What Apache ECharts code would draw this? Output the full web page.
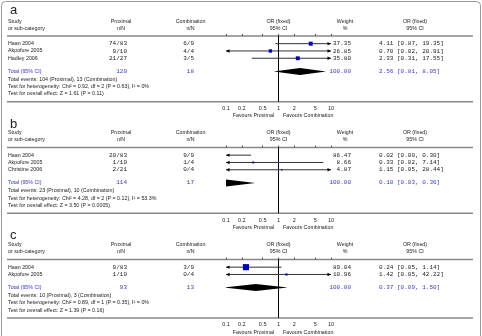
<!DOCTYPE html>
<html>
<head>
<meta charset="utf-8">
<script src="https://cdn.jsdelivr.net/npm/echarts@6/dist/echarts.min.js"></script>
<style>
  html, body { margin: 0; padding: 0; background: #fff; }
  #chart { width: 482px; height: 336px; }
</style>
</head>
<body>
<div id="chart"></div>
<script>
// ---- panel a ----
const studiesA = ['Haan 2004', 'Akpofure 2005', 'Hadley 2006'];
const proximalA = ['74/83', '9/10', '21/27'];
const combinationA = ['6/9', '4/4', '3/5'];
const orA = [4.11, 0.70, 2.33];
const lowA = [0.87, 0.02, 0.31];
const highA = [19.35, 20.91, 17.55];
const weightA = [37.35, 26.85, 35.80];
const totalNA = [120, 18];
const pooledA = [2.56, 0.81, 8.05];
const notesA = [
  'Total events: 104 (Proximal), 13 (Combination)',
  'Test for heterogeneity: Chi² = 0.92, df = 2 (P = 0.63), I² = 0%',
  'Test for overall effect: Z = 1.61 (P = 0.11)'
];

// ---- panel b ----
const studiesB = ['Haan 2004', 'Akpofure 2005', 'Christine 2006'];
const proximalB = ['20/83', '1/10', '2/21'];
const combinationB = ['9/9', '1/4', '0/4'];
const orB = [0.02, 0.33, 1.15];
const lowB = [0.00, 0.02, 0.05];
const highB = [0.30, 7.14, 28.44];
const weightB = [86.47, 8.66, 4.87];
const totalNB = [114, 17];
const pooledB = [0.10, 0.03, 0.36];
const notesB = [
  'Total events: 23 (Proximal), 10 (Combination)',
  'Test for heterogeneity: Chi² = 4.28, df = 2 (P = 0.12), I² = 53.3%',
  'Test for overall effect: Z = 3.50 (P = 0.0005)'
];

// ---- panel c ----
const studiesC = ['Haan 2004', 'Akpofure 2005'];
const proximalC = ['9/83', '1/10'];
const combinationC = ['3/9', '0/4'];
const orC = [0.24, 1.42];
const lowC = [0.05, 0.05];
const highC = [1.14, 42.22];
const weightC = [89.04, 10.96];
const totalNC = [93, 13];
const pooledC = [0.37, 0.09, 1.50];
const notesC = [
  'Total events: 10 (Proximal), 3 (Combination)',
  'Test for heterogeneity: Chi² = 0.89, df = 1 (P = 0.35), I² = 0%',
  'Test for overall effect: Z = 1.39 (P = 0.16)'
];

const tickValues = [0.1, 0.2, 0.5, 1, 2, 5, 10];
const letters = ['a', 'b', 'c'];

// layout
const XMIN = 0.1, XMAX = 10;
const ROW = 7.3;
const panelTop = [36, 147.5, 259.5];
const letterMid = [10, 124.5, 235.5];
const RULE_L = 7, RULE_R = 473;
const X_NAME = 8, X_PROX = 127, X_COMB = 194, X_WEIGHT = 351, X_OR = 379;
const TEXT = '#222', BLUE = '#3a3ac8', SQUARE = '#0000c0';
const SANS = '5.3px "Liberation Sans", Arial, sans-serif';
const MONO = '6px "Liberation Mono", monospace';

const panels = [
  { studies: studiesA, prox: proximalA, comb: combinationA, or: orA, low: lowA, high: highA, weight: weightA, totalN: totalNA, pooled: pooledA, notes: notesA },
  { studies: studiesB, prox: proximalB, comb: combinationB, or: orB, low: lowB, high: highB, weight: weightB, totalN: totalNB, pooled: pooledB, notes: notesB },
  { studies: studiesC, prox: proximalC, comb: combinationC, or: orC, low: lowC, high: highC, weight: weightC, totalN: totalNC, pooled: pooledC, notes: notesC }
];

// row slots (in row units below the header rule)
panels.forEach(p => {
  const n = p.studies.length;
  p.rows = p.studies.map((_, i) => i + 1.05);
  p.totalRow = n + 1.85;
  p.noteRows = [n + 2.9, n + 3.95, n + 4.95];
  p.bottom = n + 6;
});

const fmt = v => v.toFixed(2);

function textItems(p) {
  const items = [];
  p.studies.forEach((s, i) => {
    const r = p.rows[i];
    items.push({ row: r, text: s, x: X_NAME, align: 'left', color: TEXT, font: SANS });
    items.push({ row: r, text: p.prox[i], x: X_PROX, align: 'right', color: TEXT, font: MONO });
    items.push({ row: r, text: p.comb[i], x: X_COMB, align: 'right', color: TEXT, font: MONO });
    items.push({ row: r, text: fmt(p.weight[i]), x: X_WEIGHT, align: 'right', color: TEXT, font: MONO });
    items.push({ row: r, text: `${fmt(p.or[i])} [${fmt(p.low[i])}, ${fmt(p.high[i])}]`, x: X_OR, align: 'left', color: TEXT, font: MONO });
  });
  const t = p.totalRow;
  items.push({ row: t, text: 'Total (95% CI)', x: X_NAME, align: 'left', color: BLUE, font: SANS });
  items.push({ row: t, text: String(p.totalN[0]), x: X_PROX, align: 'right', color: BLUE, font: MONO });
  items.push({ row: t, text: String(p.totalN[1]), x: X_COMB, align: 'right', color: BLUE, font: MONO });
  items.push({ row: t, text: '100.00', x: X_WEIGHT, align: 'right', color: BLUE, font: MONO });
  items.push({ row: t, text: `${fmt(p.pooled[0])} [${fmt(p.pooled[1])}, ${fmt(p.pooled[2])}]`, x: X_OR, align: 'left', color: BLUE, font: MONO });
  p.notes.forEach((s, k) => {
    items.push({ row: p.noteRows[k], text: s, x: X_NAME, align: 'left', color: TEXT, font: SANS });
  });
  return items;
}

function arrow(pt, dir) {
  const x = pt[0], y = pt[1];
  return { type: 'polygon', shape: { points: [[x, y], [x - dir * 3.5, y - 1.7], [x - dir * 3.5, y + 1.7]] }, style: { fill: '#000' } };
}

const grid = [], xAxis = [], yAxis = [], series = [], graphic = [];

graphic.push({ type: 'rect', shape: { x: 1.5, y: 1.5, width: 479, height: 345, r: 4 }, style: { fill: 'none', stroke: '#999', lineWidth: 1 }, silent: true });

panels.forEach((p, i) => {
  const top = panelTop[i];
  const h = p.bottom * ROW;
  grid.push({ left: 226, width: 105, top: top, height: h });
  xAxis.push({
    type: 'log', logBase: 10, min: XMIN, max: XMAX, gridIndex: i,
    axisLine: { show: false },
    splitLine: { show: false },
    axisTick: { show: true, customValues: tickValues, inside: true, length: 2, lineStyle: { color: '#555' } },
    axisLabel: { customValues: tickValues, fontSize: 5.5, margin: 4, color: TEXT, fontFamily: 'Liberation Sans', formatter: v => String(+(+v).toPrecision(2)) }
  });
  yAxis.push({ type: 'value', min: 0, max: p.bottom, inverse: true, show: false, gridIndex: i });

  // reference line at OR = 1
  series.push({
    type: 'custom', xAxisIndex: i, yAxisIndex: i, silent: true, clip: false,
    data: [[1, 0]],
    renderItem: (params, api) => {
      const a = api.coord([1, 0]), b = api.coord([1, p.bottom]);
      return { type: 'line', shape: { x1: a[0], y1: a[1], x2: b[0], y2: b[1] }, style: { stroke: '#000', lineWidth: 1 } };
    }
  });

  // study CIs and squares
  series.push({
    type: 'custom', xAxisIndex: i, yAxisIndex: i, silent: true, clip: false,
    data: p.studies.map((_, k) => [p.or[k], p.rows[k], p.low[k], p.high[k], p.weight[k]]),
    renderItem: (params, api) => {
      const or = api.value(0), y = api.value(1), lo = api.value(2), hi = api.value(3), w = api.value(4);
      const a = api.coord([Math.max(lo, XMIN), y]);
      const b = api.coord([Math.min(hi, XMAX), y]);
      const children = [{ type: 'line', shape: { x1: a[0], y1: a[1], x2: b[0], y2: b[1] }, style: { stroke: '#333', lineWidth: 1 } }];
      if (lo < XMIN) children.push(arrow(a, -1));
      if (hi > XMAX) children.push(arrow(b, 1));
      if (or >= XMIN && or <= XMAX) {
        const c = api.coord([or, y]);
        const s = 0.65 * Math.sqrt(w);
        children.push({ type: 'rect', shape: { x: c[0] - s / 2, y: c[1] - s / 2, width: s, height: s }, style: { fill: SQUARE } });
      }
      return { type: 'group', children };
    }
  });

  // pooled diamond
  series.push({
    type: 'custom', xAxisIndex: i, yAxisIndex: i, silent: true, clip: true,
    data: [[p.pooled[0], p.totalRow, p.pooled[1], p.pooled[2]]],
    renderItem: (params, api) => {
      const y = api.value(1);
      const c = api.coord([api.value(0), y]);
      const l = api.coord([api.value(2), y]);
      const r = api.coord([api.value(3), y]);
      const yy = c[1];
      return { type: 'polygon', shape: { points: [[l[0], yy], [c[0], yy - 3.5], [r[0], yy], [c[0], yy + 3.5]] }, style: { fill: '#000' } };
    }
  });

  // table text
  const items = textItems(p);
  series.push({
    type: 'custom', xAxisIndex: i, yAxisIndex: i, silent: true, clip: false,
    data: items.map(it => [1, it.row]),
    renderItem: (params, api) => {
      const it = items[params.dataIndex];
      const y = api.coord([1, api.value(1)])[1];
      return { type: 'text', style: { x: it.x, y: y, text: it.text, align: it.align, verticalAlign: 'middle', fill: it.color, font: it.font } };
    }
  });

  // rules
  const bottomY = top + h;
  graphic.push({ type: 'line', shape: { x1: RULE_L, y1: top, x2: RULE_R, y2: top }, style: { stroke: '#888', lineWidth: 1.5 }, silent: true });
  graphic.push({ type: 'line', shape: { x1: RULE_L, y1: bottomY, x2: RULE_R, y2: bottomY }, style: { stroke: '#888', lineWidth: 1.5 }, silent: true });

  // headings
  graphic.push({ type: 'text', style: { x: 10, y: letterMid[i], text: letters[i], font: '13px "Liberation Sans", Arial, sans-serif', fill: '#222', verticalAlign: 'middle' }, silent: true });
  const h1 = top - 14.5, h2 = top - 7.5;
  const heads = [
    [X_NAME, 'left', 'Study', 'or sub-category'],
    [121, 'center', 'Proximal', 'n/N'],
    [190.5, 'center', 'Combination', 'n/N'],
    [278.5, 'center', 'OR (fixed)', '95% CI'],
    [345, 'center', 'Weight', '%'],
    [415, 'center', 'OR (fixed)', '95% CI']
  ];
  heads.forEach(hd => {
    graphic.push({ type: 'text', style: { x: hd[0], y: h1, text: hd[2], align: hd[1], verticalAlign: 'middle', font: SANS, fill: TEXT }, silent: true });
    graphic.push({ type: 'text', style: { x: hd[0], y: h2, text: hd[3], align: hd[1], verticalAlign: 'middle', font: SANS, fill: TEXT }, silent: true });
  });
  graphic.push({ type: 'text', style: { x: 274, y: bottomY + 14.3, text: 'Favours Proximal', align: 'right', verticalAlign: 'middle', font: SANS, fill: TEXT }, silent: true });
  graphic.push({ type: 'text', style: { x: 283, y: bottomY + 14.3, text: 'Favours Combination', align: 'left', verticalAlign: 'middle', font: SANS, fill: TEXT }, silent: true });
});

const chart = echarts.init(document.getElementById('chart'));
chart.setOption({
  animation: false,
  backgroundColor: '#fff',
  grid, xAxis, yAxis, series, graphic
});
</script>
</body>
</html>
